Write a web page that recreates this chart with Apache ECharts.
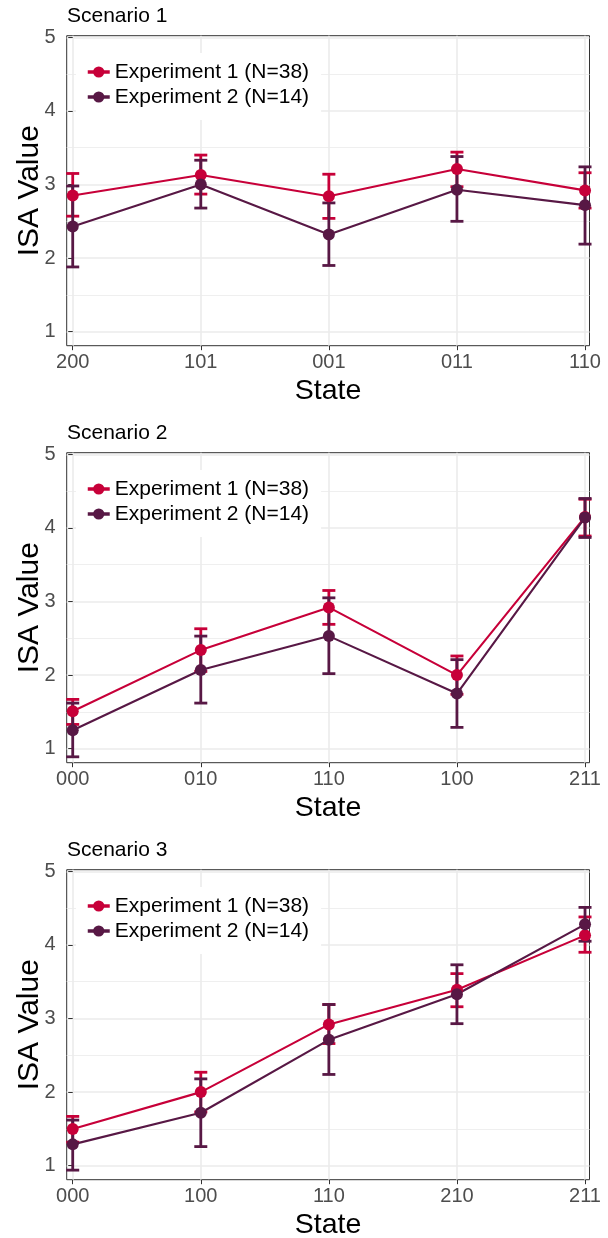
<!DOCTYPE html>
<html><head><meta charset="utf-8">
<script src="https://cdn.jsdelivr.net/npm/echarts@6/dist/echarts.min.js"></script>
<style>html,body{margin:0;padding:0;background:#fff}#c{width:608px;height:1238px}</style>
</head><body><div id="c"></div>
<script>
const panelTitles = ['Scenario 1', 'Scenario 2', 'Scenario 3'];
const states1 = ['200', '101', '001', '011', '110'];
const states2 = ['000', '010', '110', '100', '211'];
const states3 = ['000', '100', '110', '210', '211'];
const seriesNames = ['Experiment 1 (N=38)', 'Experiment 2 (N=14)'];
const yTicks = [1, 2, 3, 4, 5];
const yMinorTicks = [1.5, 2.5, 3.5, 4.5];
const xTicks = [0, 1, 2, 3, 4];

// Scenario 1
const s1exp1Mean = [2.85, 3.13, 2.84, 3.21, 2.92];
const s1exp1Low  = [2.57, 2.87, 2.54, 2.97, 2.68];
const s1exp1High = [3.15, 3.40, 3.14, 3.44, 3.16];
const s1exp2Mean = [2.43, 3.00, 2.32, 2.93, 2.72];
const s1exp2Low  = [1.88, 2.68, 1.90, 2.50, 2.19];
const s1exp2High = [2.98, 3.33, 2.75, 3.38, 3.24];
// Scenario 2
const s2exp1Mean = [1.51, 2.34, 2.92, 2.00, 4.15];
const s2exp1Low  = [1.33, 2.05, 2.69, 1.74, 3.89];
const s2exp1High = [1.67, 2.63, 3.15, 2.26, 4.39];
const s2exp2Mean = [1.25, 2.07, 2.53, 1.75, 4.14];
const s2exp2Low  = [0.89, 1.62, 2.02, 1.29, 3.87];
const s2exp2High = [1.62, 2.53, 3.05, 2.21, 4.40];
// Scenario 3
const s3exp1Mean = [1.50, 2.00, 2.92, 3.39, 4.13];
const s3exp1Low  = [1.32, 1.73, 2.66, 3.16, 3.90];
const s3exp1High = [1.67, 2.27, 3.19, 3.61, 4.38];
const s3exp2Mean = [1.29, 1.72, 2.71, 3.33, 4.28];
const s3exp2Low  = [0.94, 1.26, 2.24, 2.93, 4.05];
const s3exp2High = [1.62, 2.18, 3.19, 3.73, 4.51];

const colors = ['#C70039', '#581845'];
const FONT = '"Liberation Sans", Arial, sans-serif';

const panels = [
  {title: panelTitles[0], states: states1, exps: [[s1exp1Mean, s1exp1Low, s1exp1High], [s1exp2Mean, s1exp2Low, s1exp2High]]},
  {title: panelTitles[1], states: states2, exps: [[s2exp1Mean, s2exp1Low, s2exp1High], [s2exp2Mean, s2exp2Low, s2exp2High]]},
  {title: panelTitles[2], states: states3, exps: [[s3exp1Mean, s3exp1Low, s3exp1High], [s3exp2Mean, s3exp2Low, s3exp2High]]}
];

const PANEL_TOP = 35.7, PANEL_STEP = 417, PANEL_H = 310;
const YMIN = 0.81, YMAX = 5.022;

const option = {
  animation: false,
  backgroundColor: '#ffffff',
  textStyle: {fontFamily: FONT},
  title: [], legend: [], grid: [], xAxis: [], yAxis: [], series: []
};

panels.forEach((p, i) => {
  const top = PANEL_TOP + PANEL_STEP * i;
  option.title.push({
    text: p.title, left: 67, top: top - 29.5, padding: 0,
    textStyle: {fontSize: 21, fontWeight: 'normal', color: '#000', fontFamily: FONT}
  });
  option.legend.push({
    data: seriesNames, orient: 'vertical', left: 76, top: top + 17.3,
    padding: [8, 12, 12, 10], itemGap: 3, itemWidth: 22, itemHeight: 14,
    backgroundColor: '#ffffff', selectedMode: false,
    lineStyle: {width: 3.5},
    textStyle: {fontSize: 21, color: '#000', fontFamily: FONT, lineHeight: 22}
  });
  option.grid.push({
    left: 66.7, right: 18.5, top: top, height: PANEL_H,
    containLabel: false, outerBoundsMode: 'none',
    show: true, borderColor: '#333333', borderWidth: 1, backgroundColor: 'transparent'
  });
  option.xAxis.push({
    type: 'value', gridIndex: i, min: -0.047, max: 4.035,
    name: 'State', nameLocation: 'middle', nameGap: 31, nameMoveOverlap: false,
    nameTextStyle: {fontSize: 28.5, color: '#000', fontFamily: FONT},
    axisLine: {show: false},
    axisTick: {show: true, length: 4.5, customValues: xTicks, lineStyle: {color: '#333333', width: 1}},
    axisLabel: {customValues: xTicks, formatter: v => p.states[Math.round(v)], color: '#4d4d4d', fontSize: 20, margin: 7, fontFamily: FONT},
    splitLine: {show: true, lineStyle: {color: '#ebebeb', width: 1.6}}
  });
  option.yAxis.push({
    type: 'value', gridIndex: i, min: YMIN, max: YMAX,
    name: 'ISA Value', nameLocation: 'middle', nameGap: 22, nameMoveOverlap: false,
    nameTextStyle: {fontSize: 30, color: '#000', fontFamily: FONT},
    axisLine: {show: false},
    axisTick: {show: true, length: 4.5, customValues: yTicks, lineStyle: {color: '#333333', width: 1}},
    axisLabel: {customValues: yTicks, color: '#4d4d4d', fontSize: 20, margin: 11, fontFamily: FONT},
    splitLine: {show: true, lineStyle: {color: '#ebebeb', width: 1.6}}
  });
  option.yAxis.push({
    type: 'value', gridIndex: i, min: YMIN, max: YMAX,
    axisLine: {show: false},
    axisTick: {show: false, customValues: yMinorTicks},
    axisLabel: {show: false, customValues: yMinorTicks},
    splitLine: {show: true, lineStyle: {color: '#ededed', width: 0.9}}
  });
  p.exps.forEach((e, k) => {
    const [mean, low, high] = e;
    const color = colors[k];
    option.series.push({
      type: 'custom', name: seriesNames[k] + ' SE', xAxisIndex: i, yAxisIndex: 2 * i,
      data: mean.map((m, j) => [j, low[j], high[j]]),
      encode: {x: 0, y: [1, 2]},
      z: 2,
      renderItem: (params, api) => {
        const x = api.value(0);
        const pLo = api.coord([x, api.value(1)]);
        const pHi = api.coord([x, api.value(2)]);
        const hw = 6.5;
        const style = {stroke: color, lineWidth: 2.8, fill: null};
        return {type: 'group', children: [
          {type: 'line', shape: {x1: pLo[0], y1: pLo[1], x2: pHi[0], y2: pHi[1]}, style: style},
          {type: 'line', shape: {x1: pLo[0] - hw, y1: pLo[1], x2: pLo[0] + hw, y2: pLo[1]}, style: style},
          {type: 'line', shape: {x1: pHi[0] - hw, y1: pHi[1], x2: pHi[0] + hw, y2: pHi[1]}, style: style}
        ]};
      }
    });
    option.series.push({
      type: 'line', name: seriesNames[k], xAxisIndex: i, yAxisIndex: 2 * i,
      data: mean.map((m, j) => [j, m]),
      symbol: 'circle', symbolSize: 12, showSymbol: true,
      lineStyle: {color: color, width: 2.1},
      itemStyle: {color: color},
      emphasis: {disabled: true},
      z: 2
    });
  });
});

const chart = echarts.init(document.getElementById('c'), null, {renderer: 'canvas'});
chart.setOption(option);
</script>
</body></html>
